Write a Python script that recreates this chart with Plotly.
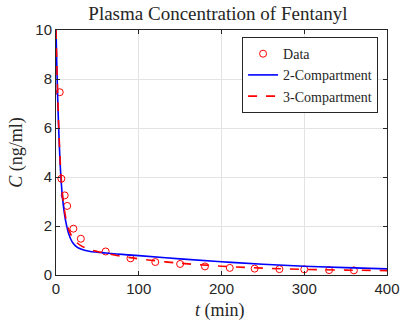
import plotly.graph_objects as go

# Measured data
t_data = [4.5, 6.5, 10.5, 13.5, 21, 30, 60, 90, 120, 150, 180, 210, 240, 270, 300, 330, 360]
c_data = [7.46, 3.93, 3.25, 2.82, 1.89, 1.48, 0.96, 0.68, 0.53, 0.45, 0.35, 0.29, 0.26, 0.24, 0.23, 0.20, 0.19]

# 2-compartment model curve
t_two = [0, 1, 2, 3, 4, 5, 6, 8, 10, 12, 14, 16, 18, 20, 25, 30, 40, 50, 60, 80, 100, 150, 200, 250, 300, 350, 400]
c_two = [10.0, 8.5, 7.25, 6.2, 5.3, 4.55, 3.95, 3.1, 2.55, 2.15, 1.85, 1.62, 1.45, 1.33, 1.15, 1.06, 0.97, 0.93, 0.90,
         0.84, 0.79, 0.66, 0.54, 0.44, 0.36, 0.30, 0.25]

# 3-compartment model curve
t_three = [0, 1, 2, 3, 4, 5, 6, 8, 10, 12, 14, 16, 18, 20, 25, 30, 40, 50, 60, 80, 100, 150, 200, 250, 300, 350, 400]
c_three = [10.0, 8.6, 7.4, 6.35, 5.45, 4.7, 4.1, 3.25, 2.7, 2.3, 2.0, 1.8, 1.65, 1.53, 1.33, 1.2, 1.05, 0.96, 0.89,
           0.76, 0.66, 0.48, 0.36, 0.28, 0.23, 0.20, 0.18]

x_ticks = [0, 100, 200, 300, 400]
y_ticks = [0, 2, 4, 6, 8, 10]

serif = "Liberation Serif, Times New Roman, serif"
sans = "Liberation Sans, Arial, sans-serif"
ink = "#262626"

fig = go.Figure()
fig.add_trace(go.Scatter(x=t_data, y=c_data, mode="markers", name="Data",
                         marker=dict(symbol="circle-open", color="#ff0000", size=7, line=dict(width=1))))
fig.add_trace(go.Scatter(x=t_two, y=c_two, mode="lines", name="2-Compartment",
                         line=dict(color="#0000ff", width=1.6, shape="spline")))
fig.add_trace(go.Scatter(x=t_three, y=c_three, mode="lines", name="3-Compartment",
                         line=dict(color="#ff0000", width=1.6, dash="dash", shape="spline")))

axis_common = dict(showline=True, linecolor=ink, linewidth=1, mirror="ticks",
                   ticks="inside", ticklen=4, tickcolor=ink, automargin=False,
                   showgrid=True, gridcolor="#e3e3e3", gridwidth=1, zeroline=False,
                   tickfont=dict(family=sans, size=15, color=ink))

fig.update_layout(
    width=402, height=321,
    margin=dict(l=56, r=15, t=30, b=45.5),
    paper_bgcolor="white", plot_bgcolor="white",
    title=dict(text="Plasma Concentration of Fentanyl", x=0.542, xanchor="center",
               y=1 - 13 / 321, yanchor="middle", font=dict(family=serif, size=19, color=ink)),
    xaxis=dict(range=[0, 400], tickvals=x_ticks, **axis_common),
    yaxis=dict(range=[0, 10], tickvals=y_ticks, **axis_common),
    legend=dict(x=0.973, y=0.971, xanchor="right", yanchor="top",
                bgcolor="white", bordercolor=ink, borderwidth=1,
                font=dict(family=serif, size=14, color=ink),
                tracegroupgap=0, itemwidth=30),
    showlegend=True,
    annotations=[
        dict(text="<i>t</i> (min)", xref="paper", yref="paper", x=0.495, y=-0.1446,
             xanchor="center", yanchor="middle", showarrow=False,
             font=dict(family=serif, size=18, color=ink)),
        dict(text="<i>C</i> (ng/ml)", xref="paper", yref="paper", x=-0.118, y=0.503,
             xanchor="center", yanchor="middle", showarrow=False, textangle=-90,
             font=dict(family=serif, size=18, color=ink)),
    ],
)

fig.write_html("out.html", config={"displayModeBar": False},
               post_script="document.body.style.margin='0';")
